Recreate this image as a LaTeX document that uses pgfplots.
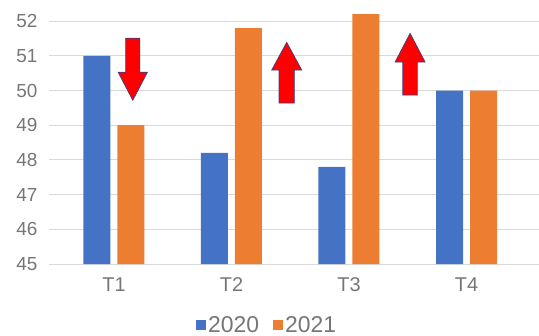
\documentclass[border=0pt]{standalone}
\usepackage{pgfplots}
\pgfplotsset{compat=1.18}
\usepackage{fontspec}
\setmainfont{Liberation Sans}
\usetikzlibrary{calc}

\definecolor{barblue}{HTML}{4472C4}
\definecolor{barorange}{HTML}{ED7D31}
\definecolor{gridgray}{HTML}{D9D9D9}
\definecolor{labelgray}{HTML}{767676}
\definecolor{arrowedge}{HTML}{3A3F86}

\begin{document}
\begin{tikzpicture}
\begin{axis}[
  scale only axis,
  width=490bp, height=264bp,
  ymin=45, ymax=52.61,
  xmin=-0.553, xmax=3.617,
  ybar=7bp, bar width=27bp,
  xtick={0,1,2,3},
  xticklabels={T1,T2,T3,T4},
  ytick={45,46,...,52},
  ymajorgrids,
  grid style={gridgray, line width=1bp},
  axis line style={draw=none},
  major tick length=0pt,
  tick label style={labelgray},
  yticklabel style={font=\fontsize{19}{22}\selectfont, xshift=-8bp},
  xticklabel style={font=\fontsize{20}{24}\selectfont, yshift=-10bp},
  /pgf/number format/assume math mode=true,
  clip=false,
  legend style={draw=none, fill=none, at={(0.445,-0.232)}, anchor=center,
    font=\fontsize{23}{26}\selectfont\color{labelgray}, legend columns=2,
    /tikz/every even column/.append style={column sep=12bp}},
  legend image code/.code={\fill[#1] (0bp,-5bp) rectangle (10bp,5bp);},
]
\addplot[fill=barblue, draw=none] coordinates {(0,51) (1,48.2) (2,47.8) (3,50)};
\addplot[fill=barorange, draw=none] coordinates {(0,49) (1,51.8) (2,52.2) (3,50)};
\legend{2020,2021}

% change markers: down for T1, up for T2 and T3
\fill[red, draw=arrowedge, line width=0.7bp]
  (axis cs:0.10,51.51) -- (axis cs:0.22,51.51) -- (axis cs:0.22,50.53)
  -- (axis cs:0.285,50.53) -- (axis cs:0.16,49.72) -- (axis cs:0.035,50.53)
  -- (axis cs:0.10,50.53) -- cycle;
\fill[red, draw=arrowedge, line width=0.7bp]
  (axis cs:1.405,49.64) -- (axis cs:1.535,49.64) -- (axis cs:1.535,50.59)
  -- (axis cs:1.598,50.59) -- (axis cs:1.47,51.39) -- (axis cs:1.342,50.59)
  -- (axis cs:1.405,50.59) -- cycle;
\fill[red, draw=arrowedge, line width=0.7bp]
  (axis cs:2.458,49.87) -- (axis cs:2.582,49.87) -- (axis cs:2.582,50.82)
  -- (axis cs:2.648,50.82) -- (axis cs:2.52,51.65) -- (axis cs:2.392,50.82)
  -- (axis cs:2.458,50.82) -- cycle;
\end{axis}
\pgfresetboundingbox
\path ($(current axis.south west)+(-49bp,-72bp)$) rectangle ($(current axis.south west)+(490bp,264bp)$);
\end{tikzpicture}
\end{document}
